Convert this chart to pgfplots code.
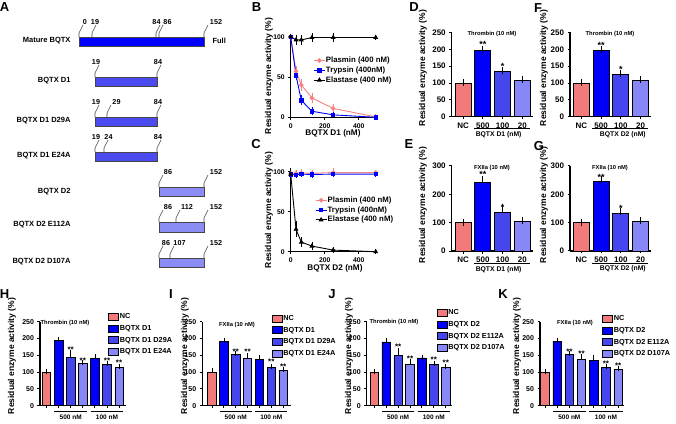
\documentclass[border=0pt]{standalone}
\usepackage{pgfplots}
\pgfplotsset{compat=1.18}
\usepackage{fontspec}
\setmainfont{Liberation Sans}
\definecolor{nc}{RGB}{242,122,122}
\definecolor{bA}{RGB}{0,0,250}
\definecolor{bB}{RGB}{70,70,238}
\definecolor{bC}{RGB}{135,135,248}
\definecolor{pk}{RGB}{246,130,130}
\definecolor{sA}{RGB}{0,0,255}
\definecolor{sB}{RGB}{75,75,240}
\definecolor{sC}{RGB}{140,140,245}
\definecolor{edge}{RGB}{70,70,70}
\newcommand{\fs}[1]{\fontsize{#1}{#1}\selectfont\bfseries}
\pgfplotsset{
  prism/.style={scale only axis, clip=false, anchor=south west,
    axis x line*=bottom, axis y line*=left,
    axis line style={line width=1.1pt}, tick align=outside,
    major tick length=2.5pt, tick style={line width=1pt,black},
    /pgf/number format/assume math mode=true},
  linelg/.style={legend image code/.code={\draw[mark repeat=2,mark phase=2,##1] plot coordinates {(0pt,0pt) (5.5pt,0pt) (11pt,0pt)};}},
  lgbar/.style={legend image code/.code={\draw[##1,line width=0.6pt] (0pt,-3.5pt) rectangle (10pt,3.5pt);}},
  curveB/.style={prism, width=85pt, xmin=0, xmax=500, ymin=0, ymax=102,
    xtick={0,200,400}, ytick={0,50,100},
    every tick label/.append style={font=\fs{6.8}},
    legend style={anchor=north west, draw=none, fill=none, font=\fs{7.8},
      nodes={inner sep=0.6pt, text height=5.8pt, text depth=1.6pt}, row sep=1.2pt},
    legend cell align=left},
  barsD/.style={prism, width=81.4pt, xmin=-0.58, xmax=3.55, ymin=0,
    xtick={0,1,2,3}, xticklabels={NC,500,100,20},
    every tick label/.append style={font=\fs{8}},
    every axis plot/.append style={ybar, bar width=16pt, bar shift=0pt, draw=black, line width=0.8pt,
      error bars/y dir=plus, error bars/y explicit, error bars/error bar style={line width=0.8pt,black},
      error bars/error mark options={line width=0.8pt, mark size=3.5pt, black}}},
  barsH/.style={prism, height=84pt, ymin=0, ymax=250, ytick={0,50,100,150,200,250},
    xtick={0,1,2,3,4,5,6}, xticklabels={},
    every tick label/.append style={font=\fs{7}},
    legend style={anchor=north west, draw=none, fill=none, font=\fs{7.3},
      nodes={inner sep=1pt, text height=5.5pt, text depth=1.5pt}, row sep=2.7pt},
    legend cell align=left,
    every axis plot/.append style={ybar, bar width=8.5pt, bar shift=0pt, draw=black, line width=0.7pt,
      error bars/y dir=plus, error bars/y explicit, error bars/error bar style={line width=0.7pt,black},
      error bars/error mark options={line width=0.7pt, mark size=2.5pt, black}}},
  ebB/.style={error bars/y dir=both, error bars/y explicit, error bars/error bar style={line width=0.7pt},
    error bars/error mark options={line width=0.7pt, mark size=1.8pt}},
}
\newcommand{\tk}[4]{%
  \draw[line width=0.6pt,edge] (axis cs:#1,#2) -- (axis cs:#1,#2-4) -- (axis cs:#1+4,#2-12);
  \node[font=\fs{7.2},anchor=south,inner sep=0pt] at (axis cs:#4,#2-12.5) {#3};}
\newcommand{\yl}[2]{\node[rotate=90,font=\fs{8.5}] at (axis cs:#1,#2) {Residual enzyme activity (\%)};}
\newcommand{\grp}{%
  \draw[line width=0.8pt] ([yshift=-6pt]axis cs:0.64,0) -- ([yshift=-6pt]axis cs:3.36,0);
  \draw[line width=0.8pt] ([yshift=-6pt]axis cs:3.64,0) -- ([yshift=-6pt]axis cs:6.36,0);
  \node[font=\fs{6.5}] at ([yshift=-11.5pt]axis cs:2,0) {500 nM};
  \node[font=\fs{6.5}] at ([yshift=-11.5pt]axis cs:5,0) {100 nM};}
\begin{document}
\begin{tikzpicture}
\useasboundingbox (0,0) rectangle (676pt,423pt);

% ---------- B ----------
\begin{axis}[curveB, at={(290.7pt,305.7pt)}, height=82.2pt,
  legend style={at={(0.23,0.77)}}]
\addplot[pk, line width=0.9pt, mark=*, mark size=1.8pt, linelg, ebB]
  coordinates {(0,100) +- (0,1) (31.25,57) +- (0,4) (62.5,40) +- (0,5) (125,24) +- (0,4) (250,11) +- (0,3) (500,0.5) +- (0,1)};
\addplot[bA, line width=0.9pt, mark=square*, mark size=1.7pt, linelg, ebB]
  coordinates {(0,100) +- (0,1) (31.25,52) +- (0,4) (62.5,21) +- (0,4) (125,7.5) +- (0,3) (250,3) +- (0,1) (500,0) +- (0,0.5)};
\addplot[black, line width=0.9pt, mark=triangle*, mark size=2pt, linelg, ebB]
  coordinates {(0,100) +- (0,1) (31.25,96) +- (0,4) (62.5,96) +- (0,4) (125,99) +- (0,3) (250,99) +- (0,3) (500,99) +- (0,1)};
\legend{Plasmin (400 nM), Trypsin (400nM), Elastase (400 nM)}
\end{axis}

% ---------- C ----------
\begin{axis}[curveB, at={(290.7pt,171.3pt)}, height=81.6pt,
  legend style={at={(0.25,0.71)}}]
\addplot[pk, line width=0.9pt, mark=*, mark size=1.8pt, linelg, ebB]
  coordinates {(0,98) +- (0,2) (31.25,98) +- (0,2) (62.5,98.5) +- (0,2) (125,98) +- (0,2) (250,99) +- (0,3) (500,99) +- (0,1)};
\addplot[bA, line width=0.9pt, mark=square*, mark size=1.7pt, linelg, ebB]
  coordinates {(0,96.5) +- (0,2) (31.25,96) +- (0,2) (62.5,97) +- (0,2) (125,96.5) +- (0,2) (250,97) +- (0,2) (500,97) +- (0,1)};
\addplot[black, line width=0.9pt, mark=triangle*, mark size=2pt, linelg, ebB]
  coordinates {(0,97) +- (0,5) (31.25,28) +- (0,8) (62.5,12) +- (0,4) (125,7) +- (0,3) (250,2) +- (0,1) (500,0) +- (0,0.5)};
\legend{Plasmin (400 nM), Trypsin (400nM), Elastase (400 nM)}
\end{axis}

% ---------- D ----------
\begin{axis}[barsD, at={(451.7pt,306.3pt)}, height=84.2pt, ymax=250, ytick={0,50,100,150,200,250}]
\addplot[fill=nc] coordinates {(0,100) +- (0,1.5)};
\addplot[fill=bA] coordinates {(1,198) +- (0,2)};
\addplot[fill=bB] coordinates {(2,134) +- (0,2)};
\addplot[fill=bC] coordinates {(3,109) +- (0,1.5)};
\node[font=\fs{9},inner sep=0pt] at (axis cs:1,214) {**};
\node[font=\fs{9},inner sep=0pt] at (axis cs:2,148) {*};
\draw[line width=0.8pt] ([yshift=-11.6pt]axis cs:0.55,0) -- ([yshift=-11.6pt]axis cs:3.4,0);
\node[font=\fs{6.8}] at ([yshift=-18.3pt]axis cs:1.8,0) {BQTX D1 (nM)};
\end{axis}

% ---------- E ----------
\begin{axis}[barsD, at={(451.7pt,172pt)}, height=85pt, ymax=300, ytick={0,100,200,300}]
\addplot[fill=nc] coordinates {(0,100) +- (0,2)};
\addplot[fill=bA] coordinates {(1,242) +- (0,10)};
\addplot[fill=bB] coordinates {(2,137) +- (0,9)};
\addplot[fill=bC] coordinates {(3,104) +- (0,3)};
\node[font=\fs{9},inner sep=0pt] at (axis cs:1,268.6) {**};
\node[font=\fs{9},inner sep=0pt] at (axis cs:2,155.5) {*};
\draw[line width=0.8pt] ([yshift=-12pt]axis cs:0.55,0) -- ([yshift=-12pt]axis cs:3.4,0);
\node[font=\fs{6.8}] at ([yshift=-18.5pt]axis cs:1.8,0) {BQTX D1 (nM)};
\end{axis}

% ---------- F ----------
\begin{axis}[barsD, at={(570pt,306.3pt)}, height=84.2pt, ymax=250, ytick={0,50,100,150,200,250}]
\addplot[fill=nc] coordinates {(0,99) +- (0,1.5)};
\addplot[fill=bA] coordinates {(1,196) +- (0,3)};
\addplot[fill=bB] coordinates {(2,127) +- (0,2)};
\addplot[fill=bC] coordinates {(3,108) +- (0,2)};
\node[font=\fs{9},inner sep=0pt] at (axis cs:1,213) {**};
\node[font=\fs{9},inner sep=0pt] at (axis cs:2,140) {*};
\draw[line width=0.8pt] ([yshift=-11.6pt]axis cs:0.55,0) -- ([yshift=-11.6pt]axis cs:3.4,0);
\node[font=\fs{6.8}] at ([yshift=-18.3pt]axis cs:2.1,0) {BQTX D2 (nM)};
\end{axis}

% ---------- G ----------
\begin{axis}[barsD, at={(570pt,172pt)}, height=85pt, ymax=300, ytick={0,100,200,300}]
\addplot[fill=nc] coordinates {(0,100) +- (0,2)};
\addplot[fill=bA] coordinates {(1,245) +- (0,9)};
\addplot[fill=bB] coordinates {(2,133) +- (0,8)};
\addplot[fill=bC] coordinates {(3,105) +- (0,3)};
\node[font=\fs{9},inner sep=0pt] at (axis cs:1,261.5) {**};
\node[font=\fs{9},inner sep=0pt] at (axis cs:2,149.5) {*};
\draw[line width=0.8pt] ([yshift=-12pt]axis cs:0.55,0) -- ([yshift=-12pt]axis cs:3.4,0);
\node[font=\fs{6.8}] at ([yshift=-18pt]axis cs:2.1,0) {BQTX D2 (nM)};
\end{axis}

% ---------- H ----------
\begin{axis}[barsH, at={(40pt,17.3pt)}, width=86pt, xmin=-0.54, xmax=6.57, legend style={at={(0.756,1.14)}}]
\addplot[fill=nc, lgbar] coordinates {(0,100) +- (0,2)};
\addplot[fill=bA, lgbar] coordinates {(1,194) +- (0,3) (4,141) +- (0,4)};
\addplot[fill=bB, lgbar] coordinates {(2,144) +- (0,15) (5,124) +- (0,3)};
\addplot[fill=bC, lgbar] coordinates {(3,127) +- (0,3) (6,113) +- (0,4)};
\legend{NC, BQTX D1, BQTX D1 D29A, BQTX D1 E24A}
\node[font=\fs{8},inner sep=0pt] at (axis cs:2,168) {**};
\node[font=\fs{8},inner sep=0pt] at (axis cs:3,134) {**};
\node[font=\fs{8},inner sep=0pt] at (axis cs:5,134) {**};
\node[font=\fs{8},inner sep=0pt] at (axis cs:6,127) {**};
\grp
\end{axis}

% ---------- I ----------
\begin{axis}[barsH, at={(202.3pt,17.3pt)}, width=88.4pt, xmin=-0.82, xmax=6.64, legend style={at={(0.75,1.12)}}]
\addplot[fill=nc, lgbar] coordinates {(0,98) +- (0,6)};
\addplot[fill=bA, lgbar] coordinates {(1,192) +- (0,2) (4,137) +- (0,5)};
\addplot[fill=bB, lgbar] coordinates {(2,152) +- (0,3) (5,115) +- (0,2)};
\addplot[fill=bC, lgbar] coordinates {(3,140) +- (0,8) (6,105) +- (0,2)};
\legend{NC, BQTX D1, BQTX D1 D29A, BQTX D1 E24A}
\node[font=\fs{8},inner sep=0pt] at (axis cs:2,162) {**};
\node[font=\fs{8},inner sep=0pt] at (axis cs:3,160) {**};
\node[font=\fs{8},inner sep=0pt] at (axis cs:5,130) {**};
\node[font=\fs{8},inner sep=0pt] at (axis cs:6,115) {**};
\grp
\end{axis}

% ---------- J ----------
\begin{axis}[barsH, at={(366.7pt,17.3pt)}, width=85pt, xmin=-0.64, xmax=6.5, legend style={at={(0.786,1.187)}}]
\addplot[fill=nc, lgbar] coordinates {(0,100) +- (0,2)};
\addplot[fill=bA, lgbar] coordinates {(1,190) +- (0,3) (4,142) +- (0,2)};
\addplot[fill=bB, lgbar] coordinates {(2,149) +- (0,14) (5,123) +- (0,3)};
\addplot[fill=bC, lgbar] coordinates {(3,124) +- (0,8) (6,113) +- (0,4)};
\legend{NC, BQTX D2, BQTX D2 E112A, BQTX D2 D107A}
\node[font=\fs{8},inner sep=0pt] at (axis cs:2,174.7) {**};
\node[font=\fs{8},inner sep=0pt] at (axis cs:3,140) {**};
\node[font=\fs{8},inner sep=0pt] at (axis cs:5,136) {**};
\node[font=\fs{8},inner sep=0pt] at (axis cs:6,128) {**};
\grp
\end{axis}

% ---------- K ----------
\begin{axis}[barsH, at={(540pt,17.3pt)}, width=84pt, xmin=-0.41, xmax=6.48, legend style={at={(0.702,1.115)}}]
\addplot[fill=nc, lgbar] coordinates {(0,99) +- (0,3)};
\addplot[fill=bA, lgbar] coordinates {(1,192) +- (0,3) (4,134) +- (0,10)};
\addplot[fill=bB, lgbar] coordinates {(2,153) +- (0,3) (5,114) +- (0,2)};
\addplot[fill=bC, lgbar] coordinates {(3,137) +- (0,10) (6,108) +- (0,2)};
\legend{NC, BQTX D2, BQTX D2 E112A, BQTX D2 D107A}
\node[font=\fs{8},inner sep=0pt] at (axis cs:2,162) {**};
\node[font=\fs{8},inner sep=0pt] at (axis cs:3,154) {**};
\node[font=\fs{8},inner sep=0pt] at (axis cs:5,125) {**};
\node[font=\fs{8},inner sep=0pt] at (axis cs:6,118) {**};
\grp
\end{axis}

% ---------- overlay (pixel coordinates) ----------
\begin{axis}[at={(0pt,0pt)}, anchor=south west, scale only axis, width=676pt, height=423pt,
  xmin=0, xmax=676, ymin=0, ymax=423, y dir=reverse, hide axis, clip=false]
\addplot[draw=edge, line width=0.7pt, fill=sA] coordinates {(79,37) (204,37) (204,46) (79,46) (79,37)};
\addplot[draw=edge, line width=0.7pt, fill=sB] coordinates {(95,77) (157,77) (157,86) (95,86) (95,77)};
\addplot[draw=edge, line width=0.7pt, fill=sB] coordinates {(95,117) (157,117) (157,126) (95,126) (95,117)};
\addplot[draw=edge, line width=0.7pt, fill=sB] coordinates {(95,152) (157,152) (157,161) (95,161) (95,152)};
\addplot[draw=edge, line width=0.7pt, fill=sC] coordinates {(159,187) (204,187) (204,196) (159,196) (159,187)};
\addplot[draw=edge, line width=0.7pt, fill=sC] coordinates {(159,222) (204,222) (204,232) (159,232) (159,222)};
\addplot[draw=edge, line width=0.7pt, fill=sC] coordinates {(159,258) (204,258) (204,267) (159,267) (159,258)};
\tk{79}{37}{0}{85}\tk{92}{37}{19}{95}\tk{156}{37}{84}{156.5}\tk{159}{37}{86}{167.5}\tk{204}{37}{152}{216}
\tk{95}{77}{19}{96}\tk{157}{77}{84}{158}
\tk{95}{117}{19}{96}\tk{107}{117}{29}{116.5}\tk{157}{117}{84}{158}
\tk{95}{152}{19}{96}\tk{104}{152}{24}{108.5}\tk{157}{152}{84}{158}
\tk{159}{187}{86}{168}\tk{204}{187}{152}{216}
\tk{159}{222}{86}{168}\tk{176}{222}{112}{187}\tk{204}{222}{152}{216}
\tk{159}{258}{86}{166}\tk{170}{258}{107}{179.5}\tk{204}{258}{152}{216}
\node[anchor=east,font=\fs{7.5}] at (axis cs:74,41) {Mature BQTX};
\node[anchor=west,font=\fs{7.5}] at (axis cs:209,41) {Full};
\node[anchor=east,font=\fs{7.5}] at (axis cs:74,81) {BQTX D1};
\node[anchor=east,font=\fs{7.5}] at (axis cs:74,121) {BQTX D1 D29A};
\node[anchor=east,font=\fs{7.5}] at (axis cs:74,156) {BQTX D1 E24A};
\node[anchor=east,font=\fs{7.5}] at (axis cs:74,192) {BQTX D2};
\node[anchor=east,font=\fs{7.5}] at (axis cs:74,225) {BQTX D2 E112A};
\node[anchor=east,font=\fs{7.5}] at (axis cs:74,262) {BQTX D2 D107A};
\node[font=\fs{13}] at (axis cs:4.5,7.5) {A};
\node[font=\fs{13}] at (axis cs:256.5,7.5) {B};
\node[font=\fs{13}] at (axis cs:414,7.5) {D};
\node[font=\fs{13}] at (axis cs:538,8) {F};
\node[font=\fs{13}] at (axis cs:256,144.5) {C};
\node[font=\fs{13}] at (axis cs:409,144.5) {E};
\node[font=\fs{13}] at (axis cs:539,146) {G};
\node[font=\fs{13}] at (axis cs:4.5,294) {H};
\node[font=\fs{13}] at (axis cs:171,294) {I};
\node[font=\fs{13}] at (axis cs:332,294) {J};
\node[font=\fs{13}] at (axis cs:503,294) {K};
\yl{269}{76}\yl{269}{210}\yl{423}{68}\yl{423}{205}\yl{544}{68}\yl{544}{205}
\yl{12}{356}\yl{185}{356}\yl{349}{356}\yl{517}{356}
\node[font=\fs{8.2}] at (axis cs:333,133) {BQTX D1 (nM)};
\node[font=\fs{8.2}] at (axis cs:335,268) {BQTX D2 (nM)};
\node[font=\fs{5.8}] at (axis cs:492,34) {Thrombin (10 nM)};
\node[font=\fs{5.8}] at (axis cs:492,168) {FXIIa (10 nM)};
\node[font=\fs{5.8}] at (axis cs:610,34) {Thrombin (10 nM)};
\node[font=\fs{5.8}] at (axis cs:610,168) {FXIIa (10 nM)};
\node[font=\fs{5.8}] at (axis cs:65,323) {Thrombin (10 nM)};
\node[font=\fs{5.8}] at (axis cs:237,325) {FXIIa (10 nM)};
\node[font=\fs{5.8}] at (axis cs:394,322) {Thrombin (10 nM)};
\node[font=\fs{5.8}] at (axis cs:575,323) {FXIIa (10 nM)};
\end{axis}
\end{tikzpicture}
\end{document}
